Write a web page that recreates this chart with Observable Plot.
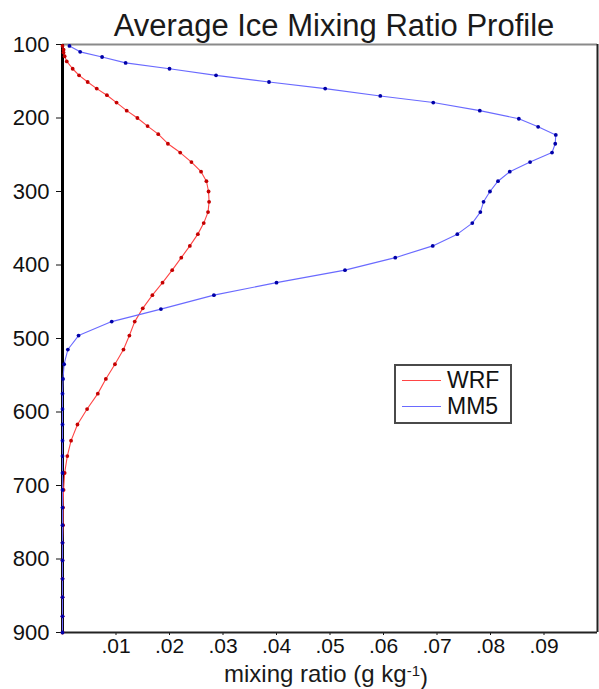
<!DOCTYPE html>
<html>
<head>
<meta charset="utf-8">
<script src="https://cdn.jsdelivr.net/npm/d3@7"></script>
<script src="https://cdn.jsdelivr.net/npm/@observablehq/plot@0.6"></script>
<style>
  body { margin: 0; background: #fff; font-family: "Liberation Sans", Arial, sans-serif; }
  #wrap { position: relative; width: 599px; height: 689px; }
  #legend {
    position: absolute; left: 394px; top: 364px; width: 114px; height: 54px;
    border: 2px solid #4a4a4a; background: #fff; color: #111;
    font-family: "Liberation Sans", Arial, sans-serif; font-size: 23px; line-height: 25.6px;
    padding-top: 2px; box-sizing: content-box;
  }
  #legend .row { display: flex; align-items: center; height: 25.6px; }
  #legend .sw { width: 39px; height: 0; border-top: 1.5px solid; margin-left: 6px; margin-right: 6px; }
</style>
</head>
<body>
<div id="wrap"></div>
<script>
// ---- data ----
const titleText = "Average Ice Mixing Ratio Profile";
const series = ["WRF", "MM5"];
const seriesLine = ["#ff4545", "#6a6aff"];
const seriesDot = ["#c40000", "#0000a8"];

const wrfPressure = [102, 107, 111, 116, 123, 133, 142, 151, 160, 169, 179, 190, 200, 211, 222, 235, 247, 260, 273, 286,
  300, 314, 328, 343, 358, 374, 390, 407, 424, 441, 459, 477, 496, 515, 535, 555, 575, 596, 617, 639,
  660, 683, 706, 730, 754, 778, 802, 827, 852, 878, 900];
const wrfIce = [0.0000, 0.0002, 0.0002, 0.0004, 0.0008, 0.0019, 0.0031, 0.0047, 0.0064, 0.0083, 0.0101, 0.0120, 0.0140, 0.0159, 0.0179,
  0.0197, 0.0220, 0.0241, 0.0259, 0.0269, 0.0273, 0.0274, 0.0272, 0.0264, 0.0253, 0.0238, 0.0222, 0.0205, 0.0187, 0.0168,
  0.0150, 0.0135, 0.0125, 0.0114, 0.0098, 0.0081, 0.0066, 0.0046, 0.0028, 0.0016, 0.0009, 0.0004, 0.0002, 0.0001, 0.0001,
  0, 0, 0, 0, 0, 0];

const mm5Pressure = [102, 110, 117, 125, 133, 142, 151, 160, 170, 179, 190, 201, 212, 223, 235, 247, 260, 273, 286, 300,
  314, 328, 343, 358, 374, 390, 407, 424, 441, 460, 477, 496, 515, 535, 555, 575, 596, 617, 639, 660,
  683, 706, 730, 754, 778, 802, 827, 852, 878, 900];
const mm5Ice = [0.0013, 0.0033, 0.0074, 0.0118, 0.0200, 0.0287, 0.0386, 0.0491, 0.0594, 0.0693, 0.0780, 0.0853, 0.0889, 0.0922, 0.0921,
  0.0915, 0.0874, 0.0836, 0.0814, 0.0799, 0.0787, 0.0781, 0.0766, 0.0738, 0.0692, 0.0622, 0.0528, 0.0400, 0.0283, 0.0184,
  0.0092, 0.0030, 0.0010, 0.0003, 0.0001, 0, 0, 0, 0, 0, 0, 0, 0, 0, 0, 0, 0, 0, 0, 0];

const yTicks = [100, 200, 300, 400, 500, 600, 700, 800, 900];
const xTicks = [0.01, 0.02, 0.03, 0.04, 0.05, 0.06, 0.07, 0.08, 0.09];
const xTickLabels = [".01", ".02", ".03", ".04", ".05", ".06", ".07", ".08", ".09"];
const xLabelMain = "mixing ratio (g kg";
const xLabelSup = "-1";
const xLabelEnd = ")";

// ---- tables ----
const wrf = wrfPressure.map((p, i) => ({p, ice: wrfIce[i]}));
const mm5 = mm5Pressure.map((p, i) => ({p, ice: mm5Ice[i]}));

const font = "'Liberation Sans', Arial, sans-serif";

const chart = Plot.plot({
  width: 599,
  height: 689,
  marginLeft: 62,
  marginRight: 2,
  marginTop: 44,
  marginBottom: 57,
  style: {fontFamily: font, fontSize: "22px", color: "#111", background: "#fff", overflow: "visible"},
  x: {domain: [0, 0.1]},
  y: {domain: [100, 900], reverse: true},
  marks: [
    Plot.axisY({ticks: yTicks, tickSize: 6, tickPadding: 7, fontSize: 22, label: null, tickFormat: d => String(d)}),
    Plot.axisX({ticks: xTicks, tickSize: 3, tickPadding: 3, fontSize: 21, label: null,
      tickFormat: d => xTickLabels[xTicks.indexOf(d)]}),
    Plot.ruleY([100], {stroke: "#8a8a8a", strokeWidth: 2}),
    Plot.ruleY([900], {stroke: "#222", strokeWidth: 2}),
    Plot.ruleX([0.1], {stroke: "#222", strokeWidth: 2}),
    Plot.ruleX([0], {stroke: "#000", strokeWidth: 3}),
    Plot.line(wrf, {x: "ice", y: "p", stroke: seriesLine[0], strokeWidth: 1.1}),
    Plot.dot(wrf, {x: "ice", y: "p", r: 1.9, fill: seriesDot[0], stroke: "none"}),
    Plot.line(mm5, {x: "ice", y: "p", stroke: seriesLine[1], strokeWidth: 1.1}),
    Plot.dot(mm5, {x: "ice", y: "p", r: 1.9, fill: seriesDot[1], stroke: "none"}),
    Plot.text([titleText], {frameAnchor: "top", lineAnchor: "bottom", dy: -9, dx: 4, fontSize: 31, fill: "#1a1a1a"}),
    Plot.text([xLabelMain], {frameAnchor: "bottom", lineAnchor: "top", dy: 32, dx: -4, fontSize: 24, fill: "#1a1a1a"})
  ]
});

// superscript on the x label
d3.select(chart).selectAll("text").each(function () {
  const t = d3.select(this);
  if (t.text() === xLabelMain) {
    t.append("tspan").attr("dy", "-0.4em").attr("font-size", "15px").text(xLabelSup);
    t.append("tspan").attr("dy", "0.4em").text(xLabelEnd);
  }
});

const wrap = document.getElementById("wrap");
wrap.appendChild(chart);

const legend = document.createElement("div");
legend.id = "legend";
series.forEach((s, i) => {
  const row = document.createElement("div");
  row.className = "row";
  const sw = document.createElement("span");
  sw.className = "sw";
  sw.style.borderTopColor = seriesLine[i];
  const lab = document.createElement("span");
  lab.textContent = s;
  row.appendChild(sw);
  row.appendChild(lab);
  legend.appendChild(row);
});
wrap.appendChild(legend);
</script>
</body>
</html>
